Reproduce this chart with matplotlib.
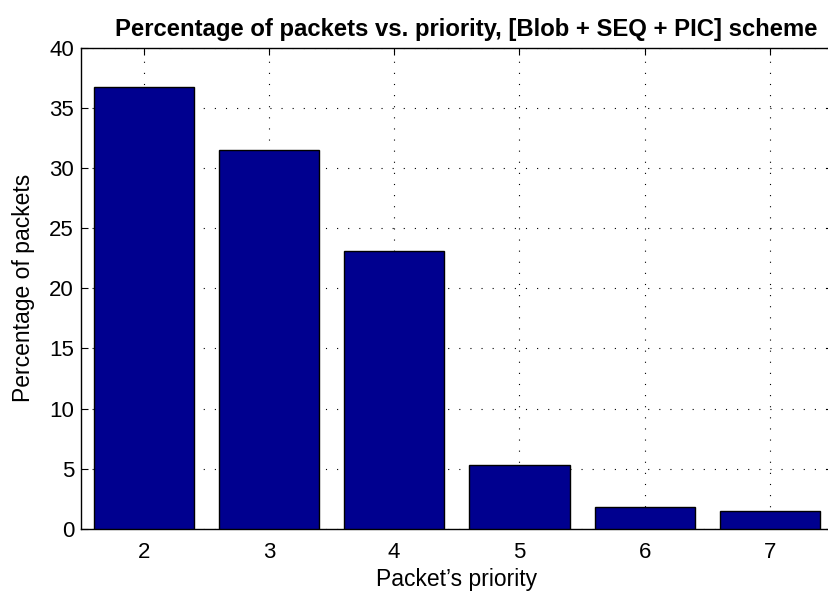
import matplotlib
matplotlib.use('Agg')
import matplotlib.pyplot as plt

# %% Data
priority = [2, 3, 4, 5, 6, 7]
pct_packets = [36.7, 31.45, 23.1, 5.35, 1.85, 1.5]
y_ticks = [0, 5, 10, 15, 20, 25, 30, 35, 40]

plt.rcParams['font.family'] = ['Liberation Sans', 'DejaVu Sans']

# %% Figure
fig = plt.figure(figsize=[8.29, 5.94], dpi=100)
ax = fig.add_axes([0.0977, 0.1094, 0.9066, 0.8106])

ax.bar(priority, pct_packets, width=0.8, color='#00008F',
       edgecolor='black', linewidth=1.0, zorder=3)

ax.set_xlim(1.5, 7.5)
ax.set_ylim(0, 40)
ax.set_xticks(priority)
ax.set_yticks(y_ticks)

# matlab-ish look: dotted grid, ticks inside on all sides
ax.grid(True, linestyle=(0, (1, 9)), color='black', linewidth=0.8, zorder=0)
ax.tick_params(direction='in', top=True, right=True, labelsize=16,
               length=5, pad=5)
ax.tick_params(axis='x', pad=9)
for s in ax.spines.values():
    s.set_linewidth(1.0)

ax.set_xlabel("Packet\u2019s priority", fontsize=16.5, labelpad=4)
ax.set_ylabel('Percentage of packets', fontsize=16.5, labelpad=10)
ax.set_title('Percentage of packets vs. priority, [Blob + SEQ + PIC] scheme',
             fontsize=17.2, fontweight='bold', pad=8, x=0.512)

fig.savefig('out.png', dpi=100)
